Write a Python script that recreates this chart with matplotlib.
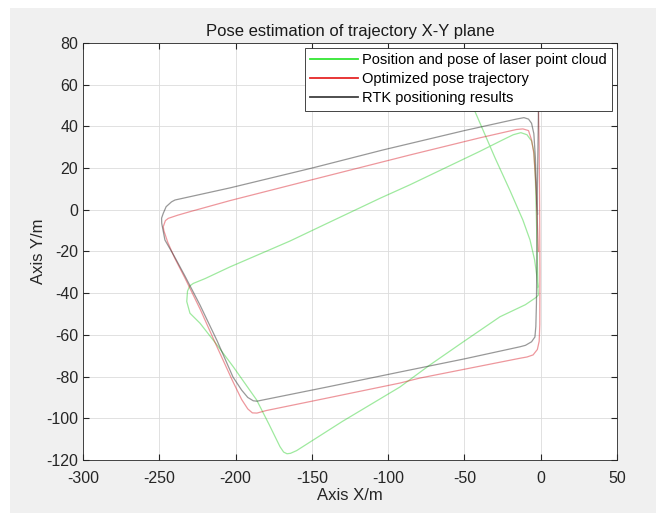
import numpy as np
import matplotlib.pyplot as plt
from matplotlib.patches import Rectangle

plt.rcParams['font.family'] = ['Liberation Sans', 'DejaVu Sans']
plt.rcParams['axes.unicode_minus'] = False

# laser point cloud pose (green)
laser_x = [-56, -43, -30, -20, -11.7, -7, -4, -2.5, -1.8, -1.6, -3, -10, -26.7, -50.7, -72.6,
           -92.3, -130, -160, -164, -166.3, -168.5, -170.9, -178, -186.2, -201.5, -212, -223.3,
           -229.9, -232, -231.5, -230, -227.7, -220, -203.7, -164.4, -140, -105.4, -85.7, -60,
           -40, -25, -18, -13, -9, -6, -4.5, -3.5, -2.8, -2.2, -1.8]
laser_y = [68, 47, 25, 9, -4.9, -14.5, -24, -32, -38, -40.9, -42, -45.5, -51.3, -63.3, -74.4,
           -85, -101.5, -115.5, -116.8, -117, -116.2, -113.6, -103, -91.2, -75.3, -65, -54.4,
           -49.6, -44, -39, -36.5, -35.3, -33, -27.4, -15, -6.5, 5.5, 12, 21,
           28, 33.5, 36, 37, 36, 33, 28, 15, -5, -25, -37]

# optimized pose trajectory (red)
opt_x = [-1.5, -1.0, -0.7, -0.5, -0.6, -1.0, -2.2, -5, -9, -13.6, -79.2, -92.3, -140, -180,
         -186, -189, -192, -196, -202, -212, -223, -233, -240, -244.5, -247, -247.4, -246,
         -244.1, -238, -229.9, -203.7, -150, -85.7, -40, -16, -11.7, -8, -6, -4.5, -3, -2, -1.5]
opt_y = [50, 30, 0, -30, -55, -63, -67, -69.6, -70.6, -71.2, -80.7, -83.1, -90.3, -96.3,
         -97.5, -97.4, -95.5, -91, -82, -66, -48, -33, -23, -15.5, -10, -8.1, -5.2,
         -4.1, -2.6, -0.9, 4.4, 14.4, 26.3, 34.5, 38.5, 38.8, 38, 33.5, 27, 10, -10, -20]

# RTK positioning (black)
rtk_x = [-1.5, -1.8, -2.2, -2.5, -2.8, -3.2, -3.8, -6, -10, -13.6, -50, -92.3, -140, -182,
         -186, -188.4, -192, -196, -201.7, -212, -223.3, -233, -240, -246.3, -248.4, -248.5,
         -247.4, -245.5, -242, -239.7, -203.7, -150, -103.4, -50, -16, -11, -8, -6, -4.5,
         -3.5, -2.6, -2.0]
rtk_y = [47, 30, 10, -20, -45, -56, -61, -63.3, -65, -65.7, -71.5, -77.8, -85, -91.2,
         -91.8, -91.6, -90, -86.5, -80.2, -63, -45.7, -32, -22.5, -14.5, -6.5, -4,
         -1.7, 1.5, 3.8, 4.7, 10.5, 20, 28.7, 38, 43.5, 44.2, 43.5, 41.5, 36.5,
         25, 5, -2]

fig = plt.figure(figsize=(6.56, 5.13), dpi=100, facecolor='#f0f0f0')
fig.patches.append(Rectangle((0, 1 - 8/513), 1, 8/513, transform=fig.transFigure,
                             facecolor='white', edgecolor='none', zorder=-10))
fig.patches.append(Rectangle((0, 0), 10/656, 1, transform=fig.transFigure,
                             facecolor='white', edgecolor='none', zorder=-10))

ax = fig.add_axes([83/656, 53/513, 534/656, 417/513])
ax.plot(laser_x, laser_y, color=(0.1, 0.8, 0.1), alpha=0.42, lw=0.9,
        label='Position and pose of laser point cloud')
ax.plot(opt_x, opt_y, color=(0.85, 0.1, 0.15), alpha=0.45, lw=0.9,
        label='Optimized pose trajectory')
ax.plot(rtk_x, rtk_y, color=(0.2, 0.2, 0.2), alpha=0.5, lw=0.9,
        label='RTK positioning results')

ax.set_xlim(-300, 50)
ax.set_ylim(-120, 80)
ax.set_xticks(np.arange(-300, 51, 50))
ax.set_yticks(np.arange(-120, 81, 20))
ax.grid(True, color='#dcdcdc', lw=0.6)
ax.set_axisbelow(True)
ax.tick_params(direction='in', top=True, right=True, length=4, labelsize=11.5,
               color='#262626', labelcolor='#262626')
ax.tick_params(axis='x', pad=8)
for s in ax.spines.values():
    s.set_color('#262626')
    s.set_linewidth(0.6)

ax.set_title('Pose estimation of trajectory X-Y plane', fontsize=12, color='#1a1a1a', pad=5)
ax.set_xlabel('Axis X/m', fontsize=12, color='#262626', labelpad=1)
ax.set_ylabel('Axis Y/m', fontsize=12, color='#262626', labelpad=0)

leg = ax.legend(loc='upper right', fontsize=10.5, fancybox=False, framealpha=1,
                edgecolor='#262626', borderaxespad=0.35, handlelength=3.3,
                handletextpad=0.25, labelspacing=0.35, borderpad=0.35)
leg.get_frame().set_linewidth(0.6)
for h, c in zip(leg.legend_handles, [(0.2, 0.9, 0.2), (0.9, 0.15, 0.15), (0.25, 0.25, 0.25)]):
    h.set_alpha(1)
    h.set_color(c)
    h.set_linewidth(1.3)
leg.set_zorder(5)

fig.savefig('out.png', dpi=100, facecolor=fig.get_facecolor())
